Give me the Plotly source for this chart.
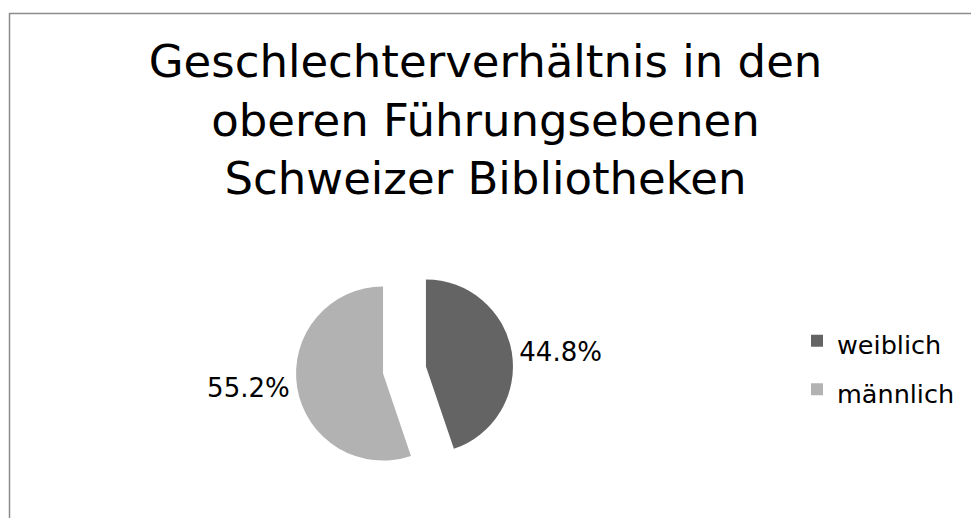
import plotly.graph_objects as go

# Data
categories = ["weiblich", "männlich"]
shares = [44.8, 55.2]
title_lines = ["Geschlechterverhältnis in den", "oberen Führungsebenen", "Schweizer Bibliotheken"]

colors = ["#646464", "#b2b2b2"]
W, H = 971, 518
FONT = "DejaVu Sans"

# pie geometry in pixels
cx, cy_top, r, pull = 404.5, 370.0, 87.0, 0.25
half = r * (1 + pull)
cy = H - cy_top

legend_labels = [f"<span style='font-size:25.5px'>{c}</span>" for c in categories]

fig = go.Figure(
    go.Pie(
        labels=legend_labels,
        values=shares,
        sort=False,
        direction="clockwise",
        rotation=0,
        pull=[pull, pull],
        marker=dict(colors=colors, line=dict(width=0)),
        textposition="outside",
        texttemplate="%{percent:.1%}",
        textfont=dict(family=FONT, size=26, color="#000000"),
        domain=dict(x=[(cx - half) / W, (cx + half) / W], y=[(cy - half) / H, (cy + half) / H]),
        hoverinfo="label+percent",
    )
)

fig.update_layout(
    width=W,
    height=H,
    margin=dict(l=0, r=0, t=0, b=0),
    paper_bgcolor="white",
    plot_bgcolor="white",
    font=dict(family=FONT, color="#000000"),
    title=dict(
        text="<br>".join(title_lines),
        x=0.5,
        xanchor="center",
        xref="paper",
        y=1 - 77 / H,
        yanchor="top",
        yref="container",
        font=dict(family=FONT, size=45, color="#000000"),
    ),
    legend=dict(
        x=797 / W,
        xanchor="left",
        y=(H - 365) / H,
        yanchor="middle",
        font=dict(family=FONT, size=35, color="#000000"),
        bgcolor="rgba(0,0,0,0)",
    ),
    shapes=[
        dict(
            type="rect",
            xref="paper",
            yref="paper",
            x0=9.5 / W,
            x1=1.2,
            y0=-0.2,
            y1=1 - 13.5 / H,
            line=dict(color="#8c8c8c", width=1.5),
            fillcolor="rgba(0,0,0,0)",
            layer="below",
        )
    ],
)

fig.write_html("out.html")
